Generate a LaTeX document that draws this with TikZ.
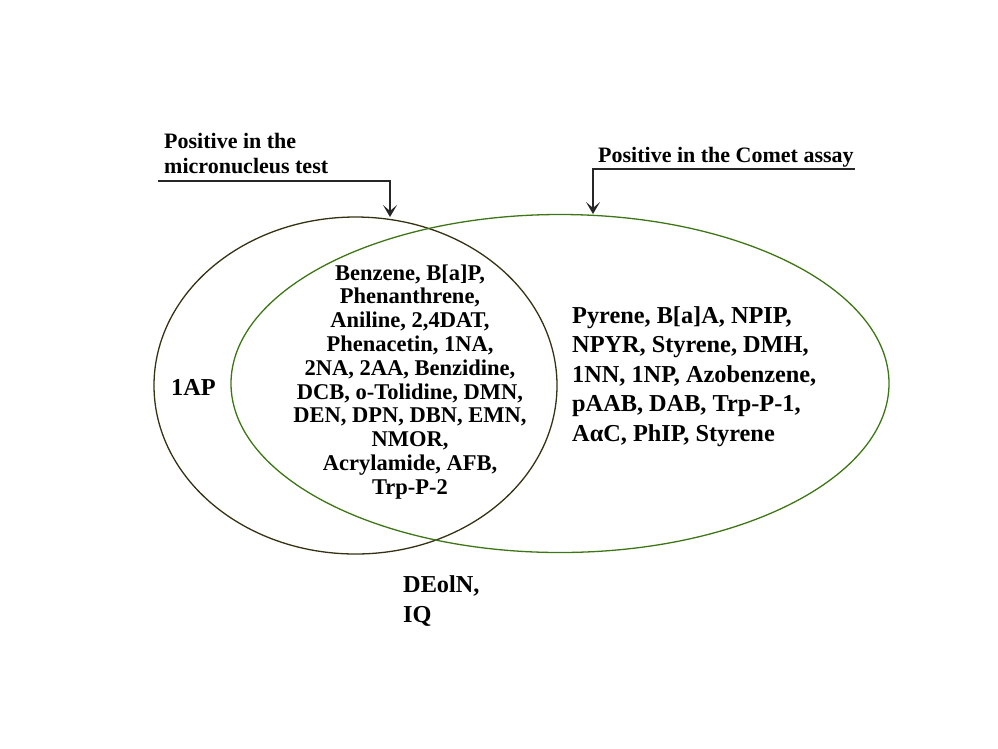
\documentclass[tikz,border=0pt]{standalone}
\usepackage{fontspec}
\setmainfont{Liberation Serif}
\usetikzlibrary{shapes.geometric,arrows.meta}
\definecolor{mncol}{RGB}{52,50,18}
\definecolor{cometcol}{RGB}{62,118,22}
\tikzset{
  venn/.style={ellipse,draw,inner sep=0pt,line width=1.3pt},
  lbl/.style={inner sep=0pt,font=\bfseries},
  ptr/.style={draw=black!85,line width=1.8pt,-{Stealth[length=12pt,width=14pt,inset=6pt]}},
}
\begin{document}
\begin{tikzpicture}[x=1pt,y=-1pt]
\useasboundingbox (0,0) rectangle (998,748);
\node[venn,draw=mncol,minimum width=403pt,minimum height=337pt] (mn) at (355.5,385.5) {};
\node[venn,draw=cometcol,minimum width=658pt,minimum height=338pt] (comet) at (560,383.5) {};
% labels
\node[lbl,anchor=base west] (mnlbl) at (164,148) {\fontsize{22}{25}\selectfont\begin{tabular}[t]{@{}l@{}}Positive in the\\micronucleus test\end{tabular}};
\node[lbl,anchor=base west] (cometlbl) at (598,162) {\fontsize{22}{25}\selectfont Positive in the Comet assay};
\coordinate (mnstart) at (158,181);
\coordinate (mntip) at (390,217);
\coordinate (cometend) at (855,169);
\coordinate (comettip) at (593,214);
\draw[ptr] (mnstart) -| (mntip);
\draw[ptr] (cometend) -| (comettip);
% contents
\node[lbl,anchor=base] (both) at (410,280) {\fontsize{22.5}{23.8}\selectfont\begin{tabular}[t]{@{}c@{}}Benzene, B[a]P,\\Phenanthrene,\\Aniline, 2,4DAT,\\Phenacetin, 1NA,\\2NA, 2AA, Benzidine,\\DCB, o-Tolidine, DMN,\\DEN, DPN, DBN, EMN,\\NMOR,\\Acrylamide, AFB,\\Trp-P-2\end{tabular}};
\node[lbl,anchor=base west] (cometonly) at (572,323) {\fontsize{24.3}{29.6}\selectfont\begin{tabular}[t]{@{}l@{}}Pyrene, B[a]A, NPIP,\\NPYR, Styrene, DMH,\\1NN, 1NP, Azobenzene,\\pAAB, DAB, Trp-P-1,\\AαC, PhIP, Styrene\end{tabular}};
\node[lbl,anchor=base west] (mnonly) at (171,395) {\fontsize{24.3}{29.6}\selectfont 1AP};
\node[lbl,anchor=base west] (neither) at (403,592) {\fontsize{24.3}{30}\selectfont\begin{tabular}[t]{@{}l@{}}DEolN,\\IQ\end{tabular}};
\end{tikzpicture}
\end{document}
